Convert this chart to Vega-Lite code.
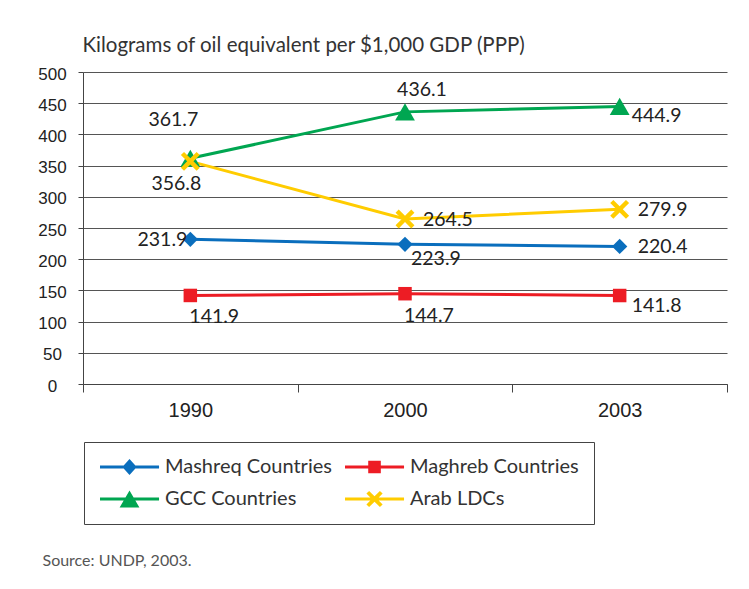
{
  "$schema": "https://vega.github.io/schema/vega-lite/v6.json",
  "width": 644,
  "height": 312,
  "autosize": {"type": "none"},
  "padding": {"left": 83, "top": 72, "right": 22, "bottom": 205},
  "background": "white",
  "config": {"view": {"stroke": null}, "font": "Lato"},
  "data": {
    "values": [
      {"year": "1990", "series": "Mashreq Countries", "value": 231.9},
      {"year": "2000", "series": "Mashreq Countries", "value": 223.9},
      {"year": "2003", "series": "Mashreq Countries", "value": 220.4},
      {"year": "1990", "series": "Maghreb Countries", "value": 141.9},
      {"year": "2000", "series": "Maghreb Countries", "value": 144.7},
      {"year": "2003", "series": "Maghreb Countries", "value": 141.8},
      {"year": "1990", "series": "GCC Countries", "value": 361.7},
      {"year": "2000", "series": "GCC Countries", "value": 436.1},
      {"year": "2003", "series": "GCC Countries", "value": 444.9},
      {"year": "1990", "series": "Arab LDCs", "value": 356.8},
      {"year": "2000", "series": "Arab LDCs", "value": 264.5},
      {"year": "2003", "series": "Arab LDCs", "value": 279.9}
    ]
  },
  "encoding": {
    "x": {
      "field": "year",
      "type": "ordinal",
      "bandPosition": 0.5,
      "scale": {"type": "band", "paddingInner": 0, "paddingOuter": 0},
      "axis": {
        "tickBand": "extent",
        "labelAngle": 0,
        "grid": false,
        "domainColor": "#444",
        "tickColor": "#444",
        "tickSize": 8,
        "labelFont": "Liberation Sans",
        "labelFontSize": 20,
        "labelColor": "#222",
        "labelPadding": 8,
        "labelBaseline": "top",
        "title": "Source: UNDP, 2003.",
        "titleFont": "Lato",
        "titleFontSize": 16,
        "titleFontWeight": "normal",
        "titleColor": "#555",
        "titleAlign": "left",
        "titleBaseline": "middle",
        "titleX": -41,
        "titleY": 176
      }
    },
    "y": {
      "field": "value",
      "type": "quantitative",
      "scale": {"domain": [0, 500], "nice": false},
      "axis": {
        "values": [0, 50, 100, 150, 200, 250, 300, 350, 400, 450, 500],
        "grid": true,
        "gridColor": "#555",
        "gridWidth": 1,
        "domainColor": "#444",
        "tickColor": "#444",
        "tickSize": 5,
        "labelAlign": "center",
        "labelBaseline": "middle",
        "labelPadding": 26,
        "labelOffset": 2,
        "labelFont": "Liberation Sans",
        "labelFontSize": 17,
        "labelColor": "#222",
        "title": "Kilograms of oil equivalent per $1,000 GDP (PPP)",
        "titleAngle": 0,
        "titleX": -1,
        "titleY": -21,
        "titleAlign": "left",
        "titleBaseline": "alphabetic",
        "titleFont": "Lato",
        "titleFontSize": 20.5,
        "titleFontWeight": "normal",
        "titleColor": "#333"
      }
    }
  },
  "layer": [
    {
      "mark": {"type": "line", "strokeWidth": 3},
      "encoding": {
        "color": {
          "field": "series",
          "type": "nominal",
          "scale": {
            "domain": ["Mashreq Countries", "Maghreb Countries", "GCC Countries", "Arab LDCs"],
            "range": ["#0a6ebd", "#ed1c24", "#00a651", "#ffcc00"]
          },
          "legend": null
        }
      }
    },
    {
      "mark": {"type": "point", "filled": true, "size": 324, "opacity": 1, "strokeWidth": 0},
      "encoding": {
        "color": {
          "field": "series",
          "type": "nominal",
          "scale": {
            "domain": ["Mashreq Countries", "Maghreb Countries", "GCC Countries", "Arab LDCs"],
            "range": ["#0a6ebd", "#ed1c24", "#00a651", "#ffcc00"]
          },
          "legend": null
        },
        "shape": {
          "field": "series",
          "type": "nominal",
          "scale": {
            "domain": ["Mashreq Countries", "Maghreb Countries", "GCC Countries", "Arab LDCs"],
            "range": [
              "M0,-0.85L0.85,0L0,0.85L-0.85,0Z",
              "M-0.75,-0.75L0.75,-0.75L0.75,0.75L-0.75,0.75Z",
              "M0,-0.95L1.1,0.95L-1.1,0.95Z",
              "M0.7,-1.05L1.05,-0.7L0.35,0L1.05,0.7L0.7,1.05L0,0.35L-0.7,1.05L-1.05,0.7L-0.35,0L-1.05,-0.7L-0.7,-1.05L0,-0.35Z"
            ]
          },
          "legend": null
        }
      }
    },
    {
      "transform": [{"filter": "datum.value < 0"}],
      "mark": {"type": "point", "filled": true, "size": 324, "opacity": 1, "strokeWidth": 0},
      "encoding": {
        "color": {
          "field": "series",
          "type": "nominal",
          "scale": {
            "domain": ["Mashreq Countries", "GCC Countries", "Maghreb Countries", "Arab LDCs"],
            "range": ["#0a6ebd", "#00a651", "#ed1c24", "#ffcc00"]
          },
          "legend": {
            "title": null,
            "orient": "none",
            "legendX": 1,
            "legendY": 370,
            "columns": 2,
            "symbolSize": 324,
            "labelOffset": 46,
            "labelFont": "Lato",
            "labelFontSize": 20,
            "labelColor": "#333",
            "labelLimit": 400,
            "rowPadding": 12,
            "columnPadding": 12,
            "padding": 15,
            "strokeColor": "#444",
            "symbolStrokeWidth": 0,
            "symbolOpacity": 1
          }
        },
        "shape": {
          "field": "series",
          "type": "nominal",
          "scale": {
            "domain": ["Mashreq Countries", "GCC Countries", "Maghreb Countries", "Arab LDCs"],
            "range": [
              "M-1,-0.17L5.56,-0.17L5.56,0.17L-1,0.17Z M2.28,-0.9L3.08,0L2.28,0.9L1.48,0Z",
              "M-1,-0.17L5.56,-0.17L5.56,0.17L-1,0.17Z M2.28,-0.95L3.38,0.95L1.18,0.95Z",
              "M-1,-0.17L5.56,-0.17L5.56,0.17L-1,0.17Z M1.58,-0.7L2.98,-0.7L2.98,0.7L1.58,0.7Z",
              "M-1,-0.17L5.56,-0.17L5.56,0.17L-1,0.17Z M2.88,-0.9L3.18,-0.6L2.58,0L3.18,0.6L2.88,0.9L2.28,0.3L1.68,0.9L1.38,0.6L1.98,0L1.38,-0.6L1.68,-0.9L2.28,-0.3Z"
            ]
          },
          "legend": {
            "title": null,
            "orient": "none",
            "legendX": 1,
            "legendY": 370,
            "columns": 2,
            "symbolSize": 324,
            "labelOffset": 46,
            "labelFont": "Lato",
            "labelFontSize": 20,
            "labelColor": "#333",
            "labelLimit": 400,
            "rowPadding": 12,
            "columnPadding": 12,
            "padding": 15,
            "strokeColor": "#444",
            "symbolStrokeWidth": 0,
            "symbolOpacity": 1
          }
        }
      }
    },
    {
      "transform": [{"filter": "datum.series == 'Mashreq Countries' && datum.year == '1990'"}],
      "mark": {"type": "text", "align": "right", "baseline": "middle", "dx": -3, "dy": 1, "font": "Lato", "fontSize": 19.5, "color": "#222"},
      "encoding": {"text": {"field": "value", "type": "quantitative", "format": ".1f"}}
    },
    {
      "transform": [{"filter": "datum.series == 'Mashreq Countries' && datum.year == '2000'"}],
      "mark": {"type": "text", "align": "left", "baseline": "middle", "dx": 6, "dy": 15, "font": "Lato", "fontSize": 19.5, "color": "#222"},
      "encoding": {"text": {"field": "value", "type": "quantitative", "format": ".1f"}}
    },
    {
      "transform": [{"filter": "(datum.series == 'Mashreq Countries' && datum.year == '2003') || (datum.series == 'Arab LDCs' && datum.year != '1990')"}],
      "mark": {"type": "text", "align": "left", "baseline": "middle", "dx": 18, "dy": 1, "font": "Lato", "fontSize": 19.5, "color": "#222"},
      "encoding": {"text": {"field": "value", "type": "quantitative", "format": ".1f"}}
    },
    {
      "transform": [{"filter": "datum.series == 'Maghreb Countries' && datum.year != '2003'"}],
      "mark": {"type": "text", "align": "left", "baseline": "middle", "dx": -1, "dy": 22, "font": "Lato", "fontSize": 19.5, "color": "#222"},
      "encoding": {"text": {"field": "value", "type": "quantitative", "format": ".1f"}}
    },
    {
      "transform": [{"filter": "(datum.series == 'Maghreb Countries' || datum.series == 'GCC Countries') && datum.year == '2003'"}],
      "mark": {"type": "text", "align": "left", "baseline": "middle", "dx": 12, "dy": 10, "font": "Lato", "fontSize": 19.5, "color": "#222"},
      "encoding": {"text": {"field": "value", "type": "quantitative", "format": ".1f"}}
    },
    {
      "transform": [{"filter": "datum.series == 'GCC Countries' && datum.year == '1990'"}],
      "mark": {"type": "text", "align": "center", "baseline": "middle", "dx": -17, "dy": -38, "font": "Lato", "fontSize": 19.5, "color": "#222"},
      "encoding": {"text": {"field": "value", "type": "quantitative", "format": ".1f"}}
    },
    {
      "transform": [{"filter": "datum.series == 'GCC Countries' && datum.year == '2000'"}],
      "mark": {"type": "text", "align": "center", "baseline": "middle", "dx": 17, "dy": -22, "font": "Lato", "fontSize": 19.5, "color": "#222"},
      "encoding": {"text": {"field": "value", "type": "quantitative", "format": ".1f"}}
    },
    {
      "transform": [{"filter": "datum.series == 'Arab LDCs' && datum.year == '1990'"}],
      "mark": {"type": "text", "align": "center", "baseline": "middle", "dx": -14, "dy": 23, "font": "Lato", "fontSize": 19.5, "color": "#222"},
      "encoding": {"text": {"field": "value", "type": "quantitative", "format": ".1f"}}
    }
  ],
  "resolve": {"scale": {"color": "independent", "shape": "independent"}}
}
